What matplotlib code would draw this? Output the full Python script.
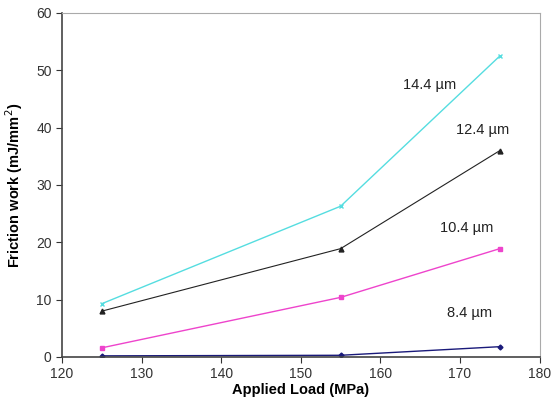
import matplotlib
matplotlib.use("Agg")
import matplotlib.pyplot as plt

plt.rcParams['font.family'] = ['Liberation Sans', 'DejaVu Sans']

# applied load (MPa)
load = [125, 155, 175]

# friction work (mJ/mm^2) per roughness
w_144 = [9.3, 26.3, 52.5]
w_124 = [8.0, 18.9, 36.0]
w_104 = [1.6, 10.4, 18.9]
w_84 = [0.2, 0.3, 1.8]

labels = ["14.4 \u00b5m", "12.4 \u00b5m", "10.4 \u00b5m", "8.4 \u00b5m"]
label_pos = [(166.2, 47.4), (172.8, 39.6), (170.8, 22.5), (171.2, 7.7)]

fig = plt.figure(figsize=(5.54, 4.0), dpi=100)
ax = fig.add_axes([0.112, 0.1075, 0.862, 0.86])

ax.plot(load, w_144, color="#55dde0", lw=1.0, marker="x", ms=3, mew=1)
ax.plot(load, w_124, color="#222222", lw=0.8, marker="^", ms=3.5)
ax.plot(load, w_104, color="#ee44cc", lw=1.0, marker="s", ms=3)
ax.plot(load, w_84, color="#1a1a7a", lw=1.0, marker="D", ms=2.5)

for txt, (x, y) in zip(labels, label_pos):
    ax.text(x, y, txt, ha="center", va="center", fontsize=10.5, color="#222222")

ax.set_xlim(120, 180)
ax.set_ylim(0, 60)
ax.set_xticks(range(120, 181, 10))
ax.set_yticks(range(0, 61, 10))
ax.tick_params(direction="out", length=4, labelsize=10, colors="#333333")

for s in ["top", "right"]:
    ax.spines[s].set_color("#aaaaaa")
for s in ["left", "bottom"]:
    ax.spines[s].set_color("#444444")
    ax.spines[s].set_linewidth(1.2)

ax.set_xlabel("Applied Load (MPa)", fontsize=10.5, fontweight="bold", labelpad=1)
ax.set_ylabel("Friction work (mJ/mm$^2$)", fontsize=10.5, fontweight="bold", labelpad=8)

fig.savefig("out.png", dpi=100)
